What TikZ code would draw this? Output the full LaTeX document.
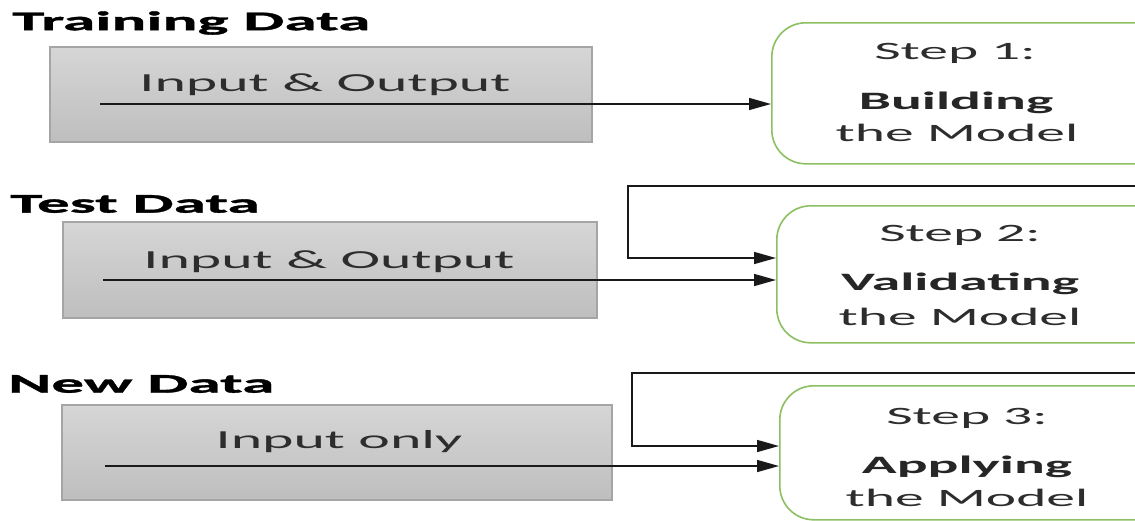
\documentclass[tikz,border=0pt]{standalone}
\usepackage{fontspec}
\setmainfont{Carlito}[FakeStretch=2.3]
\newfontfamily\headfont{Carlito}[FakeStretch=2.42, BoldFeatures={FakeBold=1.2}]
\usetikzlibrary{arrows.meta}
\definecolor{stepgreen}{RGB}{141,192,99}
\definecolor{boxedge}{RGB}{165,165,165}
\definecolor{boxtop}{RGB}{214,214,214}
\definecolor{boxbot}{RGB}{190,190,190}
\definecolor{linec}{RGB}{25,25,25}
\definecolor{txt}{RGB}{45,45,45}
\begin{document}
\begin{tikzpicture}[x=1pt,y=-1pt,
  databox/.style={draw=boxedge, line width=1.2pt, top color=boxtop, bottom color=boxbot, inner sep=0pt},
  stepbox/.style={draw=stepgreen, line width=1.6pt, rounded corners=34pt, fill=white, inner sep=0pt, anchor=north west},
  heading/.style={font=\headfont\fontsize{27}{30}\selectfont\bfseries, text=black, anchor=west, inner sep=0pt},
  boxtext/.style={font=\fontsize{26}{30}\selectfont, text=txt, inner sep=0pt},
  steptext/.style={font=\fontsize{25}{30}\selectfont, text=txt, inner sep=0pt},
  stepbold/.style={font=\fontsize{25}{30}\selectfont\bfseries, text=black!85, inner sep=0pt},
  arr/.style={draw=linec, line width=1.5pt, -{Triangle[length=22pt,width=12pt]}},
  fb/.style={draw=linec, line width=1.5pt, -{Triangle[length=22pt,width=12pt]}}
]
\useasboundingbox (0,0) rectangle (1135,520);
\clip (0,0) rectangle (1135,520);

% headings
\node[heading] (h1) at (12,23) {Training Data};
\node[heading] (h2) at (10,204) {Test Data};
\node[heading] (h3) at (8,384) {New Data};

% data boxes
\node[databox, minimum width=542pt, minimum height=95pt] (d1) at (321,94.5) {};
\node[databox, minimum width=534pt, minimum height=96pt] (d2) at (330,270) {};
\node[databox, minimum width=550pt, minimum height=95pt] (d3) at (337,452.5) {};
\node[boxtext] (t1) at (325,85) {Input \& Output};
\node[boxtext] (t2) at (329,262) {Input \& Output};
\node[boxtext] (t3) at (339,442) {Input only};

% step boxes
\node[stepbox, minimum width=420pt, minimum height=141pt] (s1) at (771,22) {};
\node[stepbox, minimum width=420pt, minimum height=137pt] (s2) at (776,205) {};
\node[stepbox, minimum width=420pt, minimum height=134pt] (s3) at (779,385) {};

\node[steptext] (s1a) at (955,53) {Step 1:};
\node[stepbold] (s1b) at (956,103) {Building};
\node[steptext] (s1c) at (957,133) {the Model};
\node[steptext] (s2a) at (960,235) {Step 2:};
\node[stepbold] (s2b) at (960,284) {Validating};
\node[steptext] (s2c) at (960,317) {the Model};
\node[steptext] (s3a) at (967,418) {Step 3:};
\node[stepbold] (s3b) at (967,467) {Applying};
\node[steptext] (s3c) at (967,498) {the Model};

% input arrows
\coordinate (a1) at (100,104);
\coordinate (a2) at (103,280);
\coordinate (a3) at (105,466);
\draw[arr] (a1) -- (a1 -| s1.west);
\draw[arr] (a2) -- (a2 -| s2.west);
\draw[arr] (a3) -- (a3 -| s3.west);

% feedback lines
\coordinate (f2) at (1140,186);
\coordinate (k2) at (628,186);
\coordinate (e2) at (628,258);
\draw[fb] (f2) -- (k2) -- (e2) -- (e2 -| s2.west);
\coordinate (f3) at (1140,373);
\coordinate (k3) at (632,373);
\coordinate (e3) at (632,446);
\draw[fb] (f3) -- (k3) -- (e3) -- (e3 -| s3.west);
\end{tikzpicture}
\end{document}
